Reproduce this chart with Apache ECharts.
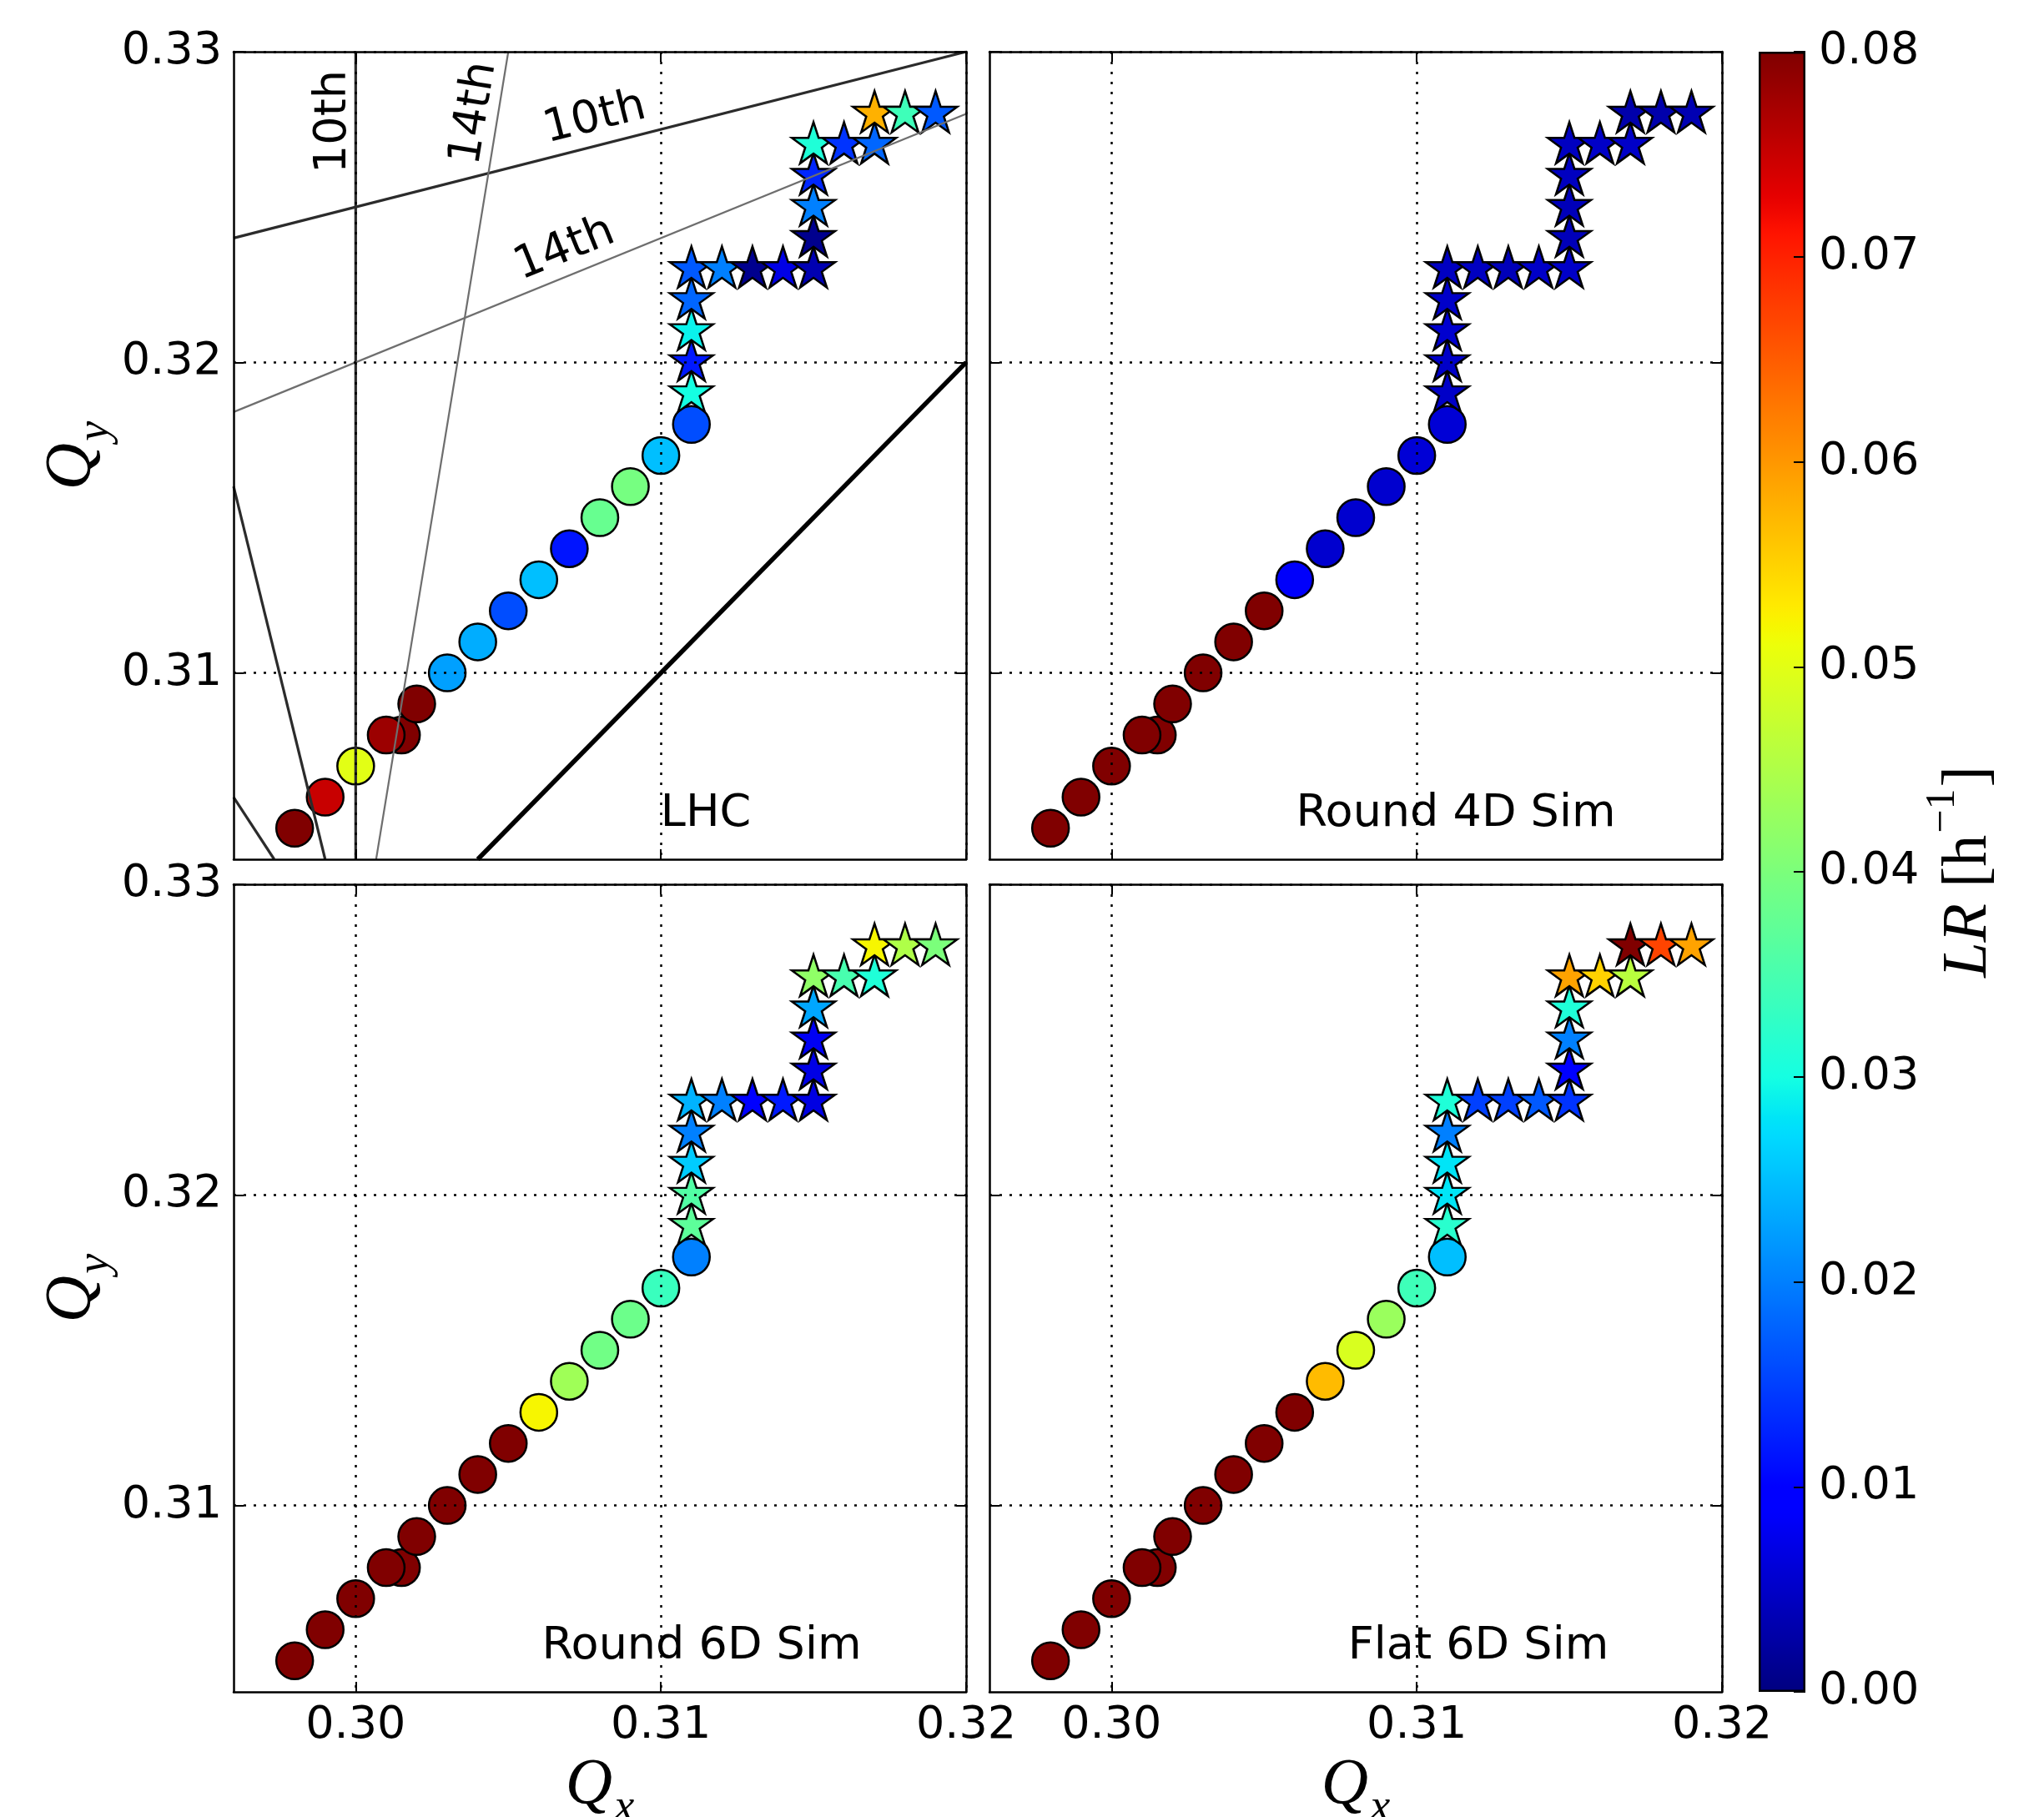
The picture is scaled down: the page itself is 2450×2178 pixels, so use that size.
<!DOCTYPE html>
<html>
<head>
<meta charset="utf-8">
<script src="https://cdn.jsdelivr.net/npm/echarts@6/dist/echarts.min.js"></script>
<style>
  html, body { margin: 0; padding: 0; background: #fff; }
  #chart { width: 2450px; height: 2178px; }
</style>
</head>
<body>
<div id="chart"></div>
<script>
// ---- Axis ranges and ticks ----
const QX_MIN = 0.296, QX_MAX = 0.32;
const QY_MIN = 0.304, QY_MAX = 0.33;
const qxTicks = [0.30, 0.31, 0.32];
const qyTicks = [0.31, 0.32, 0.33];
const LR_MAX = 0.08;
const lrTickStep = 0.01;

// ---- Working points (tunes) ----
// circles: diagonal scan; the two points at Qy = 0.308 overlap
const circleQx = [0.298, 0.299, 0.300, 0.3015, 0.301, 0.302, 0.303, 0.304, 0.305, 0.306, 0.307, 0.308, 0.309, 0.310, 0.311];
const circleQy = [0.305, 0.306, 0.307, 0.308, 0.308, 0.309, 0.310, 0.311, 0.312, 0.313, 0.314, 0.315, 0.316, 0.317, 0.318];
// stars: stepped scan above Qy = 0.318
const starQx = [0.311, 0.311, 0.311, 0.311, 0.311, 0.312, 0.313, 0.314, 0.315, 0.315, 0.315, 0.315, 0.315, 0.316, 0.317, 0.317, 0.318, 0.319];
const starQy = [0.319, 0.320, 0.321, 0.322, 0.323, 0.323, 0.323, 0.323, 0.323, 0.324, 0.325, 0.326, 0.327, 0.327, 0.327, 0.328, 0.328, 0.328];

// ---- Loss rate LR [1/h] at each working point, per data set ----
const lhcCircleLR     = [0.080, 0.075, 0.050, 0.080, 0.078, 0.080, 0.0226, 0.0236, 0.016, 0.025, 0.0116, 0.038, 0.0395, 0.025, 0.016];
const lhcStarLR       = [0.030, 0.012, 0.029, 0.018, 0.017, 0.020, 0.001, 0.007, 0.0035, 0.001, 0.020, 0.013, 0.031, 0.014, 0.018, 0.0578, 0.034, 0.017];
const round4dCircleLR = [0.080, 0.080, 0.080, 0.080, 0.080, 0.080, 0.080, 0.080, 0.080, 0.0085, 0.0055, 0.0055, 0.0055, 0.006, 0.006];
const round4dStarLR   = [0.005, 0.005, 0.0055, 0.005, 0.0045, 0.0045, 0.004, 0.005, 0.005, 0.004, 0.004, 0.0045, 0.0045, 0.005, 0.005, 0.003, 0.003, 0.0035];
const round6dCircleLR = [0.080, 0.080, 0.080, 0.080, 0.080, 0.080, 0.080, 0.080, 0.080, 0.052, 0.0435, 0.039, 0.0385, 0.0335, 0.020];
const round6dStarLR   = [0.037, 0.036, 0.026, 0.020, 0.024, 0.020, 0.009, 0.012, 0.0068, 0.007, 0.008, 0.023, 0.042, 0.035, 0.031, 0.052, 0.045, 0.040];
const flat6dCircleLR  = [0.080, 0.080, 0.080, 0.080, 0.080, 0.080, 0.080, 0.080, 0.080, 0.080, 0.057, 0.049, 0.043, 0.034, 0.025];
const flat6dStarLR    = [0.032, 0.028, 0.028, 0.020, 0.031, 0.015, 0.015, 0.017, 0.014, 0.009, 0.020, 0.031, 0.059, 0.055, 0.046, 0.080, 0.067, 0.059];

const panelTitles = ['LHC', 'Round 4D Sim', 'Round 6D Sim', 'Flat 6D Sim'];
const panelCircleLR = [lhcCircleLR, round4dCircleLR, round6dCircleLR, flat6dCircleLR];
const panelStarLR = [lhcStarLR, round4dStarLR, round6dStarLR, flat6dStarLR];

// ---- Resonance lines (LHC panel), end points on the frame ----
const res10thLines = [
  [[0.300, 0.304], [0.300, 0.330]],     // 10 Qx = 3
  [[0.296, 0.324], [0.320, 0.330]],     // -2 Qx + 8 Qy = 2
  [[0.296, 0.316], [0.299, 0.304]],     // 8 Qx + 2 Qy = 3
  [[0.296, 0.306], [0.29733, 0.304]]    // 6 Qx + 4 Qy = 3
];
const res14thLines = [
  [[0.30067, 0.304], [0.305, 0.330]],   // 12 Qx - 2 Qy = 3
  [[0.296, 0.3184], [0.320, 0.328]]     // 4 Qx - 10 Qy = -2
];
const couplingLine = [[0.304, 0.304], [0.320, 0.320]]; // Qx = Qy

// ---- Jet colour map ----
function jet(t) {
  const seg = (pts) => {
    for (let k = 1; k < pts.length; k++) {
      if (t <= pts[k][0]) {
        const [x0, y0] = pts[k - 1], [x1, y1] = pts[k];
        return y0 + (y1 - y0) * (t - x0) / (x1 - x0);
      }
    }
    return pts[pts.length - 1][1];
  };
  const r = seg([[0, 0], [0.35, 0], [0.66, 1], [0.89, 1], [1, 0.5]]);
  const g = seg([[0, 0], [0.125, 0], [0.375, 1], [0.64, 1], [0.91, 0], [1, 0]]);
  const b = seg([[0, 0.5], [0.11, 1], [0.34, 1], [0.65, 0], [1, 0]]);
  return 'rgb(' + Math.round(r * 255) + ',' + Math.round(g * 255) + ',' + Math.round(b * 255) + ')';
}
const JET_N = 160;
const jetColors = Array.from({ length: JET_N + 1 }, (_, k) => jet(k / JET_N));

// ---- Layout ----
const gridBoxes = [
  { left: 280,  top: 62,   width: 878, height: 968 },
  { left: 1186, top: 62,   width: 878, height: 968 },
  { left: 280,  top: 1060, width: 878, height: 968 },
  { left: 1186, top: 1060, width: 878, height: 968 }
];
const colorbarBox = { left: 2108, top: 62, width: 56, height: 1966 };

const FONT = 'DejaVu Sans';
const MATH = 'Liberation Serif';
const STAR = 'path://M0,-100L22.45,-30.9L95.11,-30.9L36.33,11.8L58.78,80.9L0,38.2L-58.78,80.9L-36.33,11.8L-95.11,-30.9L-22.45,-30.9Z';

const frameLine = { show: true, onZero: false, lineStyle: { color: '#000', width: 2.5 } };
const tickStyle = { color: '#000', width: 2 };
const gridDots = { show: true, lineStyle: { color: '#000', width: 2.5, type: [3, 9] } };
const labelStyle = { fontFamily: FONT, fontSize: 54, color: '#000' };

const qRich = {
  q: { fontFamily: MATH, fontStyle: 'italic', fontSize: 78, lineHeight: 78, verticalAlign: 'top', color: '#000' },
  s: { fontFamily: MATH, fontStyle: 'italic', fontSize: 54, lineHeight: 54, verticalAlign: 'top', padding: [40, 0, 0, 2], color: '#000' }
};
const lrRich = {
  it: { fontFamily: MATH, fontStyle: 'italic', fontSize: 76, lineHeight: 76, verticalAlign: 'top', padding: [18, 0, 0, 0], color: '#000' },
  rm: { fontFamily: MATH, fontSize: 76, lineHeight: 76, verticalAlign: 'top', padding: [18, 0, 0, 0], color: '#000' },
  sup: { fontFamily: MATH, fontSize: 50, lineHeight: 50, verticalAlign: 'top', padding: [0, 2, 0, 2], color: '#000' }
};

const grids = [];
const xAxes = [];
const yAxes = [];
const series = [];

gridBoxes.forEach((box, i) => {
  const bottomRow = i >= 2;
  const leftCol = i % 2 === 0;
  grids.push(Object.assign({ containLabel: false, outerBoundsMode: 'none' }, box));

  const xBase = { type: 'value', gridIndex: i, min: QX_MIN, max: QX_MAX, z: 5, axisLine: frameLine };
  xAxes.push(Object.assign({}, xBase, {
    position: 'bottom',
    axisTick: { show: true, inside: true, length: 12, customValues: qxTicks, lineStyle: tickStyle },
    axisLabel: Object.assign({ show: bottomRow, customValues: qxTicks, margin: 14, formatter: v => v.toFixed(2) }, labelStyle),
    splitLine: gridDots,
    name: bottomRow ? '{q|Q}{s|x}' : '',
    nameLocation: 'middle', nameGap: 73,
    nameTextStyle: { rich: qRich }
  }));
  xAxes.push(Object.assign({}, xBase, {
    position: 'top',
    axisTick: { show: true, inside: true, length: 12, customValues: qxTicks, lineStyle: tickStyle },
    axisLabel: { show: false }, splitLine: { show: false }
  }));

  const yBase = { type: 'value', gridIndex: i, min: QY_MIN, max: QY_MAX, z: 5, axisLine: frameLine };
  yAxes.push(Object.assign({}, yBase, {
    position: 'left',
    axisTick: { show: true, inside: true, length: 12, customValues: qyTicks, lineStyle: tickStyle },
    axisLabel: Object.assign({ show: leftCol, customValues: qyTicks, margin: 14, formatter: v => v.toFixed(2) }, labelStyle),
    splitLine: gridDots,
    name: leftCol ? '{q|Q}{s|y}' : '',
    nameLocation: 'middle', nameGap: 146, nameRotate: 90,
    nameTextStyle: { rich: qRich }
  }));
  yAxes.push(Object.assign({}, yBase, {
    position: 'right',
    axisTick: { show: true, inside: true, length: 12, customValues: qyTicks, lineStyle: tickStyle },
    axisLabel: { show: false }, splitLine: { show: false }
  }));
});

// scatter series: circles then stars for each panel
panelTitles.forEach((title, i) => {
  series.push({
    name: title + ' circles', type: 'scatter', xAxisIndex: 2 * i, yAxisIndex: 2 * i,
    symbol: 'circle', symbolSize: 44, z: 2, silent: true,
    itemStyle: { borderColor: '#000', borderWidth: 2.5, opacity: 1 },
    data: circleQx.map((qx, k) => [qx, circleQy[k], panelCircleLR[i][k]])
  });
  series.push({
    name: title + ' stars', type: 'scatter', xAxisIndex: 2 * i, yAxisIndex: 2 * i,
    symbol: STAR, symbolSize: [52, 49.5], symbolOffset: [0, -2.6], z: 2, silent: true,
    itemStyle: { borderColor: '#000', borderWidth: 2.5, opacity: 1 },
    data: starQx.map((qx, k) => [qx, starQy[k], panelStarLR[i][k]])
  });
});
const scatterIndices = series.map((s, k) => k);

// resonance lines in the LHC panel
const resLine = (data, color, width) => ({
  type: 'line', xAxisIndex: 0, yAxisIndex: 0, data: data, symbol: 'none', silent: true,
  z: 3, lineStyle: { color: color, width: width }, clip: true
});
res10thLines.forEach(d => series.push(resLine(d, '#2b2b2b', 3.2)));
res14thLines.forEach(d => series.push(resLine(d, '#6e6e6e', 2.2)));
series.push(resLine(couplingLine, '#000', 5.5));

// colour bar
grids.push(Object.assign({ outerBoundsMode: 'none' }, colorbarBox));
const cbAxisIndex = xAxes.length;
xAxes.push({ type: 'category', gridIndex: 4, data: ['LR'], show: false });
yAxes.push({
  type: 'value', gridIndex: 4, position: 'right', min: 0, max: LR_MAX, interval: lrTickStep, z: 5,
  axisLine: { show: false },
  axisTick: { show: true, inside: true, length: 14, lineStyle: tickStyle },
  axisLabel: Object.assign({ margin: 16, formatter: v => v.toFixed(2) }, labelStyle),
  splitLine: { show: false },
  name: '{it|LR}{rm| [h}{sup|\u22121}{rm|]}',
  nameLocation: 'middle', nameRotate: 90, nameGap: 132,
  nameTextStyle: { rich: lrRich }
});
series.push({
  type: 'bar', xAxisIndex: cbAxisIndex, yAxisIndex: cbAxisIndex, data: [LR_MAX], barWidth: '100%', silent: true, z: 2,
  itemStyle: {
    color: new echarts.graphic.LinearGradient(0, 1, 0, 0,
      jetColors.map((c, k) => ({ offset: k / JET_N, color: c }))),
    borderColor: '#000', borderWidth: 2.5
  }
});

// panel titles and resonance order labels
const txt = (text, x, y, deg) => ({
  type: 'text', x: x, y: y, rotation: (deg || 0) * Math.PI / 180, z: 3, silent: true,
  style: { text: text, fontFamily: FONT, fontSize: 54, fill: '#000', align: 'center', verticalAlign: 'middle' }
});
const graphics = [
  txt(panelTitles[0], 846, 976),
  txt(panelTitles[1], 1745, 976),
  txt(panelTitles[2], 841, 1974),
  txt(panelTitles[3], 1772, 1974),
  txt('10th', 400, 146, 90),
  txt('14th', 569, 136, 80.7),
  txt('10th', 713, 142, 14.25),
  txt('14th', 677, 299, 22.1)
];

const chart = echarts.init(document.getElementById('chart'), null, { renderer: 'canvas', width: 2450, height: 2178 });
chart.setOption({
  animation: false,
  backgroundColor: '#fff',
  grid: grids,
  xAxis: xAxes,
  yAxis: yAxes,
  visualMap: {
    type: 'continuous', show: false, min: 0, max: LR_MAX, dimension: 2,
    seriesIndex: scatterIndices,
    inRange: { color: jetColors }
  },
  graphic: graphics,
  series: series
});
</script>
</body>
</html>
